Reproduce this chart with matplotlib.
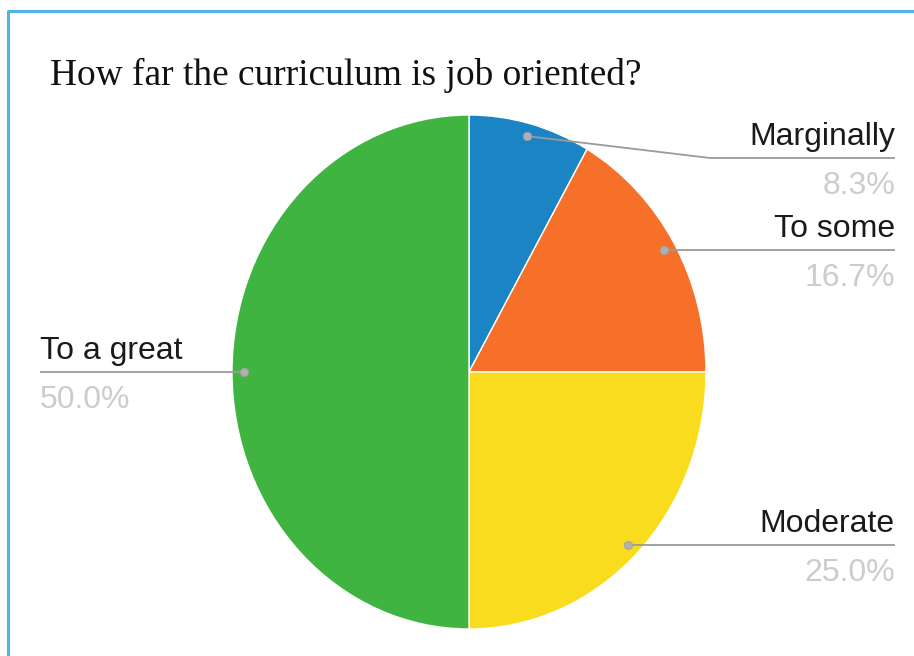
import numpy as np
import matplotlib.pyplot as plt
from matplotlib.lines import Line2D

# data
labels = ["Marginally", "To some", "Moderate", "To a great"]
values = [8.3, 16.7, 25.0, 50.0]
pct_text = ["8.3%", "16.7%", "25.0%", "50.0%"]
colors = ["#1a84c4", "#f7702a", "#fadc1e", "#40b440"]

W, H = 914, 656
fig = plt.figure(figsize=(W / 100, H / 100), dpi=100)

# pie box in pixels (scan is a little squeezed sideways)
cx, cy = 469, 372
rx, ry = 237, 257
axp = fig.add_axes([(cx - rx) / W, (H - cy - ry) / H, 2 * rx / W, 2 * ry / H])
axp.pie(values, colors=colors, startangle=90, counterclock=False,
        wedgeprops=dict(edgecolor="white", linewidth=1.0))
axp.set_aspect("auto")
axp.set_xlim(-1, 1)
axp.set_ylim(-1, 1)
axp.axis("off")

# overlay in pixel coords
ax = fig.add_axes([0, 0, 1, 1], zorder=5)
ax.set_xlim(0, W)
ax.set_ylim(H, 0)
ax.axis("off")
ax.patch.set_alpha(0)

# border (only top and left visible in the scan)
ax.add_line(Line2D([8, 8, W], [H, 11, 11], color="#52b4e2", lw=2.2))

ax.text(50, 85, "How far the curriculum is job oriented?", fontsize=26.9,
        family="Liberation Serif", color="#111111", va="baseline", ha="left")

# label rows: (line y, side)
line_y = [158, 250, 545, 372]
side = ["r", "r", "r", "l"]

cum = np.cumsum([0] + values[:-1])
for i, lab in enumerate(labels):
    mid = (cum[i] + values[i] / 2) / 100 * 2 * np.pi
    dx = cx + 0.95 * rx * np.sin(mid)
    dy = cy - 0.95 * ry * np.cos(mid)
    ly = line_y[i]
    if side[i] == "r":
        xe = 895
        if abs(dy - ly) > 3:
            xs = [dx, 710, xe]
            ys = [dy, ly, ly]
        else:
            xs = [dx, xe]
            ys = [ly, ly]
        ha, tx = "right", xe
    else:
        xs = [40, dx]
        ys = [ly, ly]
        ha, tx = "left", 40
    ax.plot(xs, ys, color="#9a9a9a", lw=1.3, solid_capstyle="butt")
    ax.plot(dx, ys[0] if side[i] == "r" and len(xs) == 2 else dy, "o",
            color="#b0b0b0", ms=6, mec="#a0a0a0", mew=0.5)
    ax.text(tx, ly - 13, lab, fontsize=23, family="Liberation Sans",
            color="#1a1a1a", ha=ha, va="baseline")
    ax.text(tx, ly + 36, pct_text[i], fontsize=23, family="Liberation Sans",
            color="#cccccc", ha=ha, va="baseline")

fig.savefig("out.png", dpi=100, facecolor="white")
